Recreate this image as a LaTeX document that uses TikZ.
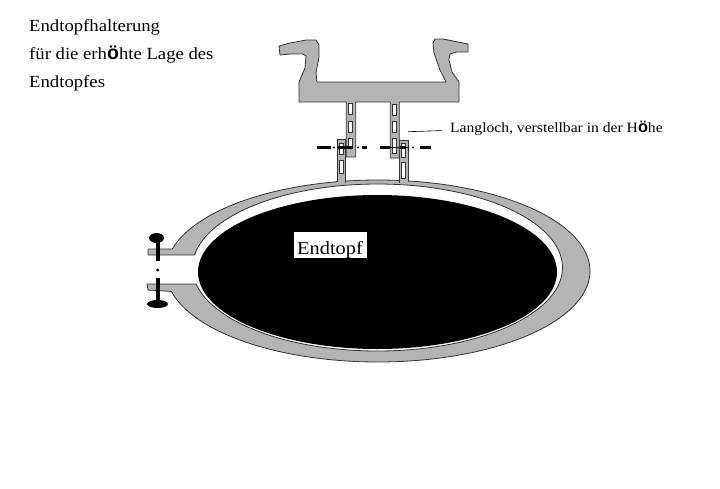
\documentclass[tikz,border=0pt]{standalone}
\usepackage{fontspec}
\setmainfont{Liberation Serif}[FakeStretch=1.1]
\newfontfamily\oefont{Liberation Sans}[Scale=1.15]
\definecolor{railgray}{HTML}{B4B4B4}
\newcommand{\oeb}{{\oefont\bfseries ö}}
\tikzset{
  part/.style={fill=railgray,draw=black!80,line width=0.8pt,line join=round},
  slot/.style={fill=white,draw=black!80,line width=0.7pt},
  titletext/.style={anchor=base west,inner sep=0pt,font=\fontsize{17}{20}\selectfont},
  axisline/.style={draw=black,line width=0.9pt},
  thickaxis/.style={draw=black,line width=3pt},
  boltshaft/.style={draw=black,line width=3.6pt},
}
\begin{document}
\begin{tikzpicture}[x=1pt,y=-1pt]
\useasboundingbox (0,0) rectangle (720,488);
% ring
\path[part] plot[domain=-166:167,samples=120,smooth] ({378+212*cos(\x)},{271+91*sin(\x)})
  -- (148,290) -- (147,284) -- (196,284)
  -- plot[domain=168.6:-171.4,samples=120,smooth] ({377.5+185*cos(\x)},{267.5+83.5*sin(\x)})
  -- (148,255) -- (148,249) -- cycle;
\fill[black] (377.5,272) ellipse [x radius=179.5,y radius=77];
% lower tabs
\path[fill=railgray] (337,184) rectangle (345.3,139.5);
\path[fill=railgray] (399.3,184) rectangle (408,141);
\path[part,fill=none] (337.3,182) -- (337.3,139.3) -- (345.3,139.3) -- (345.3,183);
\path[part,fill=none] (399.3,183) -- (399.3,140.7) -- (408,140.7) -- (408,182);
% rail with stems
\path[part] (279,46) -- (290,43) -- (306,40) -- (316,40) -- (319,45) -- (319,57) -- (316,73) -- (317,82)
  -- (446,82) -- (440,70) -- (434,53) -- (433,43) -- (435,39) -- (443,39) -- (468,44) -- (468,52)
  -- (457,52) -- (450,54) -- (449,60) -- (452,72) -- (459,82) -- (459,102)
  -- (399.3,102) -- (399.3,158) -- (390.3,158) -- (390.3,102) -- (355.7,102) -- (355.7,157) -- (346.3,157) -- (346.3,102)
  -- (299,102) -- (299,82) -- (305,68) -- (306,56) -- (303,54) -- (290,54) -- (280,55) -- cycle;
% slots
\foreach \x/\w/\a/\b in {350.5/2.2/103/114,350.5/2.2/121/132,350.5/2.2/138/148,394.5/1.7/104/115,394.5/1.7/121/132,394.5/1.7/138/153,341/2/143/154,341/2/160/173,403/2/143/157,403/2/162/178}
  \path[slot] (\x-\w,\a) rectangle (\x+\w,\b);
% axes
\draw[thickaxis] (317,147.5) -- (331,147.5) (338,147.5) -- (353,147.5) (362,147.5) -- (367,147.5)
  (380,147.5) -- (390,147.5) (400,147.5) -- (406,147.5) (420,147.5) -- (431,147.5);
\draw[axisline] (390,147.5) -- (400,147.5) (406,147.5) -- (409,147.5);
\foreach \x in {334,358,413} \fill[black] (\x,147.5) circle (1.1);
% bolts
\fill[black] (156.5,238) ellipse [x radius=7.5,y radius=5];
\fill[black] (157.5,304) ellipse [x radius=10.5,y radius=4];
\draw[boltshaft] (157.7,238) -- (157.7,260.5) (157.7,278) -- (157.7,304);
\fill[black] (157.7,270) circle (1.6);
% labels
\node[titletext] (t1) at (29,31.7) {Endtopfhalterung};
\node[titletext] (t2) at (29,59.3) {für die erh\oeb hte Lage des};
\node[titletext] (t3) at (29,87.7) {Endtopfes};
\node[anchor=base west,inner sep=0pt,font=\fontsize{14.2}{16}\selectfont] (lang) at (450,132.7) {Langloch, verstellbar in der H\oeb he};
\coordinate (lead) at (408,131.7);
\draw[black,line width=0.6pt] (lead) -- ([xshift=-8pt,yshift=-2pt]lang.west);
\node[anchor=base,fill=white,inner sep=0pt,minimum width=73pt,text height=22pt,text depth=4pt,font=\fontsize{18.5}{20}\selectfont] (endtopf) at (330,254) {Endtopf};
\end{tikzpicture}
\end{document}
